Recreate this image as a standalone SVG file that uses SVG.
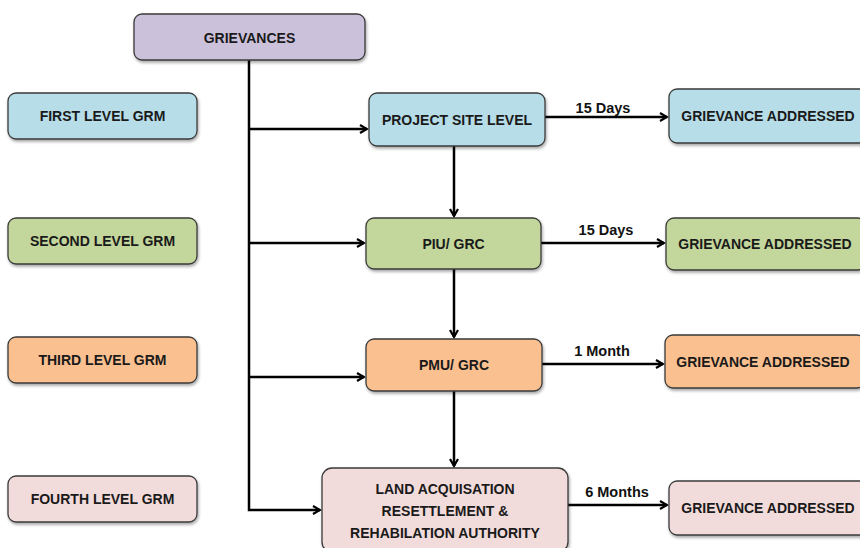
<svg xmlns="http://www.w3.org/2000/svg" width="860" height="548" viewBox="0 0 860 548">
<style>
.box{stroke:#3a3a3a;stroke-width:1.3;filter:url(#sh)}
.t{font-family:"Liberation Sans",Arial,sans-serif;font-weight:bold;font-size:14px;fill:#1a1a1a;text-anchor:middle;dominant-baseline:central}
.l{font-family:"Liberation Sans",Arial,sans-serif;font-weight:bold;font-size:14.5px;fill:#111;text-anchor:middle}
.c{stroke:#000;stroke-width:2.5;fill:none}
.a{marker-end:url(#ar)}
.p{fill:#ccc1da}.b{fill:#b7dde8}.g{fill:#c3d69b}.o{fill:#fac090}.k{fill:#f2dcdb}
</style>
<defs>
<filter id="sh" x="-10%" y="-10%" width="120%" height="130%"><feDropShadow dx="1" dy="2" stdDeviation="1.5" flood-color="#000" flood-opacity="0.35"/></filter>
<marker id="ar" markerWidth="10" markerHeight="10" refX="8" refY="5" orient="auto" markerUnits="userSpaceOnUse"><path d="M1,1 L8,5 L1,9" fill="none" stroke="#000" stroke-width="2.2"/></marker>
</defs>
<rect width="860" height="548" fill="#fff"/>
<g id="connectors">
<path class="c" d="M249,60 V510 H320" marker-end="url(#ar)"/>
<path class="c a" d="M249,129 H367"/>
<path class="c a" d="M249,243 H364"/>
<path class="c a" d="M249,377 H364"/>
<path class="c a" d="M454,146 V216"/>
<path class="c a" d="M454,269 V337"/>
<path class="c a" d="M454,391 V466"/>
<path class="c a" d="M545,117 H667"/>
<path class="c a" d="M541,243 H664"/>
<path class="c a" d="M542,364 H663"/>
<path class="c a" d="M568,505 H667"/>
<text class="l" x="603" y="113">15 Days</text>
<text class="l" x="606" y="235">15 Days</text>
<text class="l" x="602" y="356">1 Month</text>
<text class="l" x="617" y="497">6 Months</text>
</g>
<g id="grievances"><rect class="box p" x="134" y="14" width="231" height="46" rx="8"/><text class="t" x="249.5" y="38">GRIEVANCES</text></g>
<g id="first-level"><rect class="box b" x="8" y="93" width="189" height="46" rx="8"/><text class="t" x="102.5" y="116">FIRST LEVEL GRM</text></g>
<g id="second-level"><rect class="box g" x="8" y="218" width="189" height="46" rx="8"/><text class="t" x="102.5" y="241">SECOND LEVEL GRM</text></g>
<g id="third-level"><rect class="box o" x="8" y="337" width="189" height="46" rx="8"/><text class="t" x="102.5" y="360">THIRD LEVEL GRM</text></g>
<g id="fourth-level"><rect class="box k" x="8" y="476" width="189" height="46" rx="8"/><text class="t" x="102.5" y="499">FOURTH LEVEL GRM</text></g>
<g id="project-site"><rect class="box b" x="369" y="93" width="176" height="53" rx="8"/><text class="t" x="457" y="119.5">PROJECT SITE LEVEL</text></g>
<g id="piu-grc"><rect class="box g" x="366" y="218" width="175" height="51" rx="8"/><text class="t" x="453.5" y="243.5">PIU/ GRC</text></g>
<g id="pmu-grc"><rect class="box o" x="366" y="339" width="176" height="52" rx="8"/><text class="t" x="454" y="365">PMU/ GRC</text></g>
<g id="larr-authority"><rect class="box k" x="322" y="468" width="246" height="84" rx="10"/>
<text class="t" x="445" y="489">LAND ACQUISATION</text><text class="t" x="445" y="511">RESETTLEMENT &amp;</text><text class="t" x="445" y="533">REHABILATION AUTHORITY</text></g>
<g id="addressed-1"><rect class="box b" x="669" y="89" width="200" height="54" rx="8"/><text class="t" x="768" y="116">GRIEVANCE ADDRESSED</text></g>
<g id="addressed-2"><rect class="box g" x="666" y="218" width="200" height="52" rx="8"/><text class="t" x="765" y="244">GRIEVANCE ADDRESSED</text></g>
<g id="addressed-3"><rect class="box o" x="665" y="335" width="200" height="53" rx="8"/><text class="t" x="763" y="361.5">GRIEVANCE ADDRESSED</text></g>
<g id="addressed-4"><rect class="box k" x="669" y="481" width="200" height="54" rx="8"/><text class="t" x="768" y="508">GRIEVANCE ADDRESSED</text></g>
</svg>
